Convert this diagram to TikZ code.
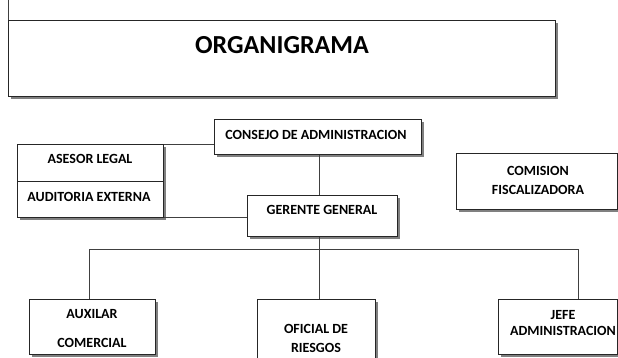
\documentclass[tikz,border=0pt]{standalone}
\usepackage{fontspec}
\setmainfont{Carlito}
\usetikzlibrary{shadows}
\tikzset{
  box/.style={draw=black!85, line width=0.9pt, fill=white, anchor=north west, inner sep=0pt,
    drop shadow={shadow xshift=2.5pt, shadow yshift=-2.5pt, fill=black!50, opacity=1}},
  lbl/.style={font=\fontsize{14}{16}\selectfont\bfseries, inner sep=0pt, anchor=center},
  conn/.style={draw=black!75, line width=0.9pt}
}
\begin{document}
\begin{tikzpicture}[x=1pt,y=-1pt]
\useasboundingbox (0,0) rectangle (618,358);
\clip (0,0) rectangle (618,358);
% title
\node[box, minimum width=547pt, minimum height=76pt] (titlebox) at (8,20) {};
\coordinate (tick) at (8,0);
\draw[conn] (tick) -- (titlebox.north west);
\node[font=\fontsize{26}{30}\selectfont\bfseries, inner sep=0pt] (title) at (282,45) {ORGANIGRAMA};
% consejo
\node[box, minimum width=207pt, minimum height=35pt] (consejo) at (214,119) {};
\node[lbl] (tconsejo) at (316,135) {CONSEJO DE ADMINISTRACION};
% asesor / auditoria
\node[box, minimum width=146pt, minimum height=37pt] (asesor) at (17,144) {};
\node[box, minimum width=146pt, minimum height=36pt] (auditoria) at (17,181) {};
\node[lbl] (tasesor) at (90,159) {ASESOR LEGAL};
\node[lbl] (tauditoria) at (89,197) {AUDITORIA EXTERNA};
% gerente
\node[box, minimum width=150pt, minimum height=41pt] (gerente) at (247,195) {};
\node[lbl] (tgerente) at (322,210) {GERENTE GENERAL};
% comision
\node[box, minimum width=161pt, minimum height=56pt] (comision) at (456,153) {};
\node[lbl] (tcom1) at (538,171) {COMISION};
\node[lbl] (tcom2) at (538,190) {FISCALIZADORA};
% bottom row
\node[box, minimum width=126pt, minimum height=55pt] (auxilar) at (29,299) {};
\node[lbl] (taux1) at (92,314) {AUXILAR};
\node[lbl] (taux2) at (92,343) {COMERCIAL};
\node[box, minimum width=118pt, minimum height=70pt] (oficial) at (257,299) {};
\node[lbl] (tof1) at (316,329) {OFICIAL DE};
\node[lbl] (tof2) at (316,348) {RIESGOS};
\node[box, minimum width=119pt, minimum height=55pt] (jefe) at (498,299) {};
\node[lbl] (tjefe1) at (563,315) {JEFE};
\node[lbl] (tjefe2) at (563,331) {ADMINISTRACION};
% connectors
\coordinate (spine) at (319,0);
\coordinate (bl) at (89,249);
\coordinate (br) at (578,249);
\draw[conn] (asesor.north east) -- (asesor.north east -| consejo.west);
\draw[conn] (auditoria.south east) -- (auditoria.south east -| gerente.west);
\draw[conn] (spine |- consejo.south) -- (spine |- gerente.north);
\draw[conn] (spine |- gerente.south) -- (spine |- oficial.north);
\draw[conn] (bl |- auxilar.north) -- (bl) -- (br) -- (br |- jefe.north);
\end{tikzpicture}
\end{document}
